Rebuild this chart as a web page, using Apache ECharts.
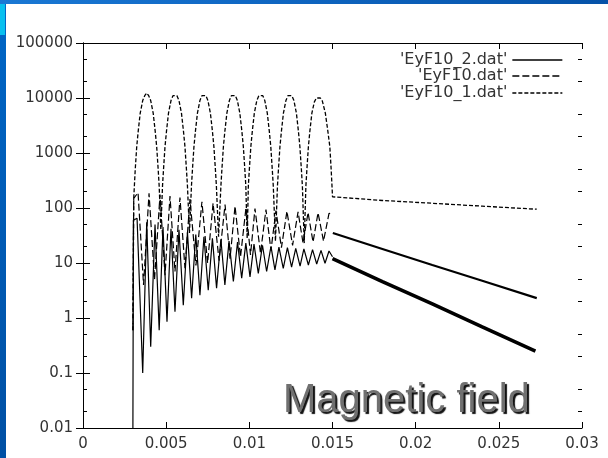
<!DOCTYPE html>
<html><head><meta charset="utf-8">
<script src="https://cdn.jsdelivr.net/npm/echarts@6/dist/echarts.min.js"></script>
<style>html,body{margin:0;padding:0;background:#fff}#c{width:608px;height:458px}</style>
</head><body><div id="c"></div><script>
// ---- tick labels ----
const xTickLabels = ['0', '0.005', '0.01', '0.015', '0.02', '0.025', '0.03'];
const yTickValues = [0.01, 0.1, 1, 10, 100, 1000, 10000, 100000];
const yTickLabels = ['0.01', '0.1', '1', '10', '100', '1000', '10000', '100000'];
const yMinorTickValues = [0.02, 0.05, 0.2, 0.5, 2, 5, 20, 50, 200, 500, 2000, 5000, 20000, 50000];

// ---- series names ----
const nameA = "'EyF10_2.dat'";
const nameB = "'EyF10.dat'";
const nameC = "'EyF10_1.dat'";

// ---- 'EyF10_2.dat' (solid) : oscillating part, read peak/trough by peak/trough ----
const eyF10_2_osc = [
  [0.00300, 0.01], [0.00303, 60], [0.00325, 65], [0.00359, 0.1], [0.00383, 55], [0.00407, 0.3],
  [0.00433, 50], [0.00458, 0.6], [0.00481, 45], [0.00505, 0.86], [0.00529, 42], [0.00553, 1.3],
  [0.00577, 40], [0.00603, 1.7], [0.00628, 36], [0.00653, 2.3], [0.00678, 33], [0.00703, 2.6],
  [0.00727, 30], [0.00753, 3.2], [0.00778, 28], [0.00803, 3.5], [0.00829, 27], [0.00853, 4.0],
  [0.00878, 25], [0.00904, 4.6], [0.00929, 24], [0.00954, 5.3], [0.00979, 23], [0.01004, 5.6],
  [0.01028, 22], [0.01054, 6.5], [0.01079, 21], [0.01104, 7.0], [0.01130, 20], [0.01154, 7.5],
  [0.01178, 19.5], [0.01204, 8.0], [0.01229, 19], [0.01254, 8.4], [0.01279, 18.5], [0.01305, 8.8],
  [0.01328, 18], [0.01355, 9.2], [0.01380, 17.5], [0.01405, 9.6], [0.01431, 17], [0.01455, 9.9],
  [0.01479, 16.5], [0.01500, 13]
];
const eyF10_2_tail = [[0.01500, 12], [0.0180, 4.6], [0.0210, 1.8], [0.0240, 0.69], [0.0272, 0.25]];

// ---- 'EyF10.dat' (long dashes) ----
const eyF10_osc = [
  [0.00300, 0.6], [0.00305, 150], [0.00331, 190], [0.00364, 4], [0.00397, 185], [0.00430, 5],
  [0.00463, 175], [0.00493, 6], [0.00523, 165], [0.00553, 7], [0.00583, 155], [0.00613, 8],
  [0.00643, 145], [0.00679, 9], [0.00715, 130], [0.00749, 10], [0.00782, 122], [0.00818, 11],
  [0.00854, 115], [0.00884, 12], [0.00914, 108], [0.00947, 13], [0.00980, 102], [0.01007, 14],
  [0.01034, 98], [0.01067, 15], [0.01100, 94], [0.01130, 17], [0.01160, 90], [0.01193, 19],
  [0.01226, 87], [0.01260, 21], [0.01293, 85], [0.01323, 23], [0.01353, 83], [0.01383, 24],
  [0.01413, 82], [0.01446, 25], [0.01479, 80], [0.01500, 78]
];
const eyF10_tail = [[0.01502, 35], [0.0180, 18], [0.0210, 9.2], [0.0240, 4.75], [0.02728, 2.3]];

// ---- 'EyF10_1.dat' (short dashes, large arches) ----
const eyF10_1 = [
  [0.00300, 0.6], [0.00305, 150], [0.00314, 500], [0.00323, 1300], [0.00332, 2500], [0.00344, 5300],
  [0.00359, 9000], [0.00371, 11000], [0.00383, 12300], [0.00395, 11000], [0.00407, 9000], [0.00422, 5300],
  [0.00434, 2500], [0.00443, 1300], [0.00452, 500], [0.00458, 250], [0.00468, 40],
  [0.00478, 250], [0.00484, 500], [0.00493, 1300], [0.00502, 2500], [0.00514, 5300], [0.00529, 9000],
  [0.00541, 11000], [0.00553, 11800], [0.00565, 11000], [0.00577, 9000], [0.00592, 5300], [0.00604, 2500],
  [0.00613, 1300], [0.00622, 500], [0.00628, 250], [0.00640, 35],
  [0.00652, 250], [0.00658, 500], [0.00667, 1300], [0.00676, 2500], [0.00688, 5300], [0.00703, 9000],
  [0.00715, 11000], [0.00727, 11700], [0.00739, 11000], [0.00751, 9000], [0.00766, 5300], [0.00778, 2500],
  [0.00787, 1300], [0.00796, 500], [0.00802, 250], [0.00815, 30],
  [0.00829, 250], [0.00835, 500], [0.00844, 1300], [0.00853, 2500], [0.00865, 5300], [0.00880, 9000],
  [0.00892, 11000], [0.00904, 11500], [0.00916, 11000], [0.00928, 9000], [0.00943, 5300], [0.00955, 2500],
  [0.00964, 1300], [0.00973, 500], [0.00979, 250], [0.00987, 28],
  [0.00994, 250], [0.01000, 500], [0.01009, 1300], [0.01018, 2500], [0.01030, 5300], [0.01045, 9000],
  [0.01057, 11000], [0.01069, 11500], [0.01081, 11000], [0.01093, 9000], [0.01108, 5300], [0.01120, 2500],
  [0.01129, 1300], [0.01138, 500], [0.01144, 250], [0.01157, 25],
  [0.01169, 250], [0.01175, 500], [0.01184, 1300], [0.01193, 2500], [0.01205, 5300], [0.01220, 9000],
  [0.01232, 11000], [0.01244, 11300], [0.01256, 11000], [0.01268, 9000], [0.01283, 5300], [0.01295, 2500],
  [0.01304, 1300], [0.01313, 500], [0.01319, 250], [0.01330, 23],
  [0.01340, 250], [0.01346, 500], [0.01355, 1300], [0.01364, 2500], [0.01376, 5300], [0.01391, 8500],
  [0.01403, 10000], [0.01415, 10600], [0.01427, 10000], [0.01439, 8800], [0.01457, 5300], [0.01472, 2500],
  [0.01484, 1300], [0.01492, 500], [0.01497, 250], [0.01500, 160],
  [0.0180, 137], [0.0210, 122], [0.0240, 108], [0.02728, 95]
];

const chart = echarts.init(document.getElementById('c'), null, {renderer: 'canvas'});
const font = 'DejaVu Sans';
const axisLineStyle = {show: true, lineStyle: {color: '#000', width: 1}};
function xAxisDef(pos, showLabel) {
  return {
    type: 'value', position: pos, min: 0, max: 0.03, interval: 0.005,
    axisLine: axisLineStyle, splitLine: {show: false},
    axisTick: {show: true, inside: true, length: 6, lineStyle: {color: '#000'}},
    axisLabel: {show: showLabel, margin: 9, color: '#333', fontFamily: font, fontSize: 15,
      formatter: v => xTickLabels[Math.round(v / 0.005)]}
  };
}
function yAxisDef(pos, showLabel, minor) {
  return {
    type: 'log', logBase: 10, position: pos, min: 0.01, max: 100000, offset: 0,
    axisLine: minor ? {show: false} : axisLineStyle, splitLine: {show: false},
    axisTick: {show: true, inside: true, length: minor ? 4 : 7, lineStyle: {color: '#000'},
      customValues: minor ? yMinorTickValues : yTickValues},
    axisLabel: {show: showLabel, margin: 10, color: '#333', fontFamily: font, fontSize: 15,
      customValues: yTickValues,
      formatter: v => yTickLabels[Math.round(Math.log10(v)) + 2]}
  };
}
const common = {type: 'line', symbol: 'none', showSymbol: false, animation: false, silent: true,
  xAxisIndex: 0, yAxisIndex: 0, clip: true, itemStyle: {color: '#000'}};
function legendDef(name, top) {
  return {
    data: [name], right: 45, top: top, orient: 'vertical', align: 'right',
    itemWidth: 50, itemHeight: 12, padding: 0, selectedMode: false,
    itemStyle: {opacity: 0},
    lineStyle: {width: 1.3},
    textStyle: {fontFamily: font, fontSize: 16, color: '#333'}
  };
}

chart.setOption({
  animation: false,
  backgroundColor: '#fff',
  grid: {left: 83, right: 26, top: 43, bottom: 30, containLabel: false},
  xAxis: [xAxisDef('bottom', true), xAxisDef('top', false)],
  yAxis: [yAxisDef('left', true, false), yAxisDef('right', false, false),
          yAxisDef('left', false, true), yAxisDef('right', false, true)],
  legend: [legendDef(nameA, 52), legendDef(nameB, 68), legendDef(nameC, 85)],
  series: [
    Object.assign({}, common, {name: nameA, data: eyF10_2_osc, lineStyle: {color: '#000', width: 1.2, type: 'solid'}}),
    Object.assign({}, common, {name: nameA, data: eyF10_2_tail, lineStyle: {color: '#000', width: 3.6, type: 'solid'}}),
    Object.assign({}, common, {name: nameB, data: eyF10_osc, lineStyle: {color: '#000', width: 1.2, type: [7, 3]}}),
    Object.assign({}, common, {name: nameB, data: eyF10_tail, lineStyle: {color: '#000', width: 2.2, type: 'solid'}}),
    Object.assign({}, common, {name: nameC, data: eyF10_1, lineStyle: {color: '#000', width: 1.3, type: [4, 2]}})
  ],
  graphic: [
    {type: 'rect', left: 0, top: 0, shape: {width: 608, height: 4}, silent: true,
      style: {fill: new echarts.graphic.LinearGradient(0, 0, 1, 0, [{offset: 0, color: '#1a78d4'}, {offset: 0.4, color: '#1068c4'}, {offset: 1, color: '#0552a8'}])}},
    {type: 'rect', left: 0, top: 4, shape: {width: 6, height: 454}, silent: true,
      style: {fill: new echarts.graphic.LinearGradient(0, 0, 0, 1, [{offset: 0, color: '#0066c6'}, {offset: 1, color: '#0050a4'}])}},
    {type: 'rect', left: 0, top: 4, shape: {width: 5, height: 31}, silent: true, style: {fill: '#08c0f0'}},
    {type: 'text', x: 283, y: 401, silent: true, z: 100,
      style: {text: 'Magnetic field', fontFamily: 'Liberation Sans', fontSize: 40, fill: '#707070',
        align: 'left', verticalAlign: 'middle',
        textShadowColor: '#111', textShadowOffsetX: 2, textShadowOffsetY: 2, textShadowBlur: 1}}
  ]
});
</script></body></html>
